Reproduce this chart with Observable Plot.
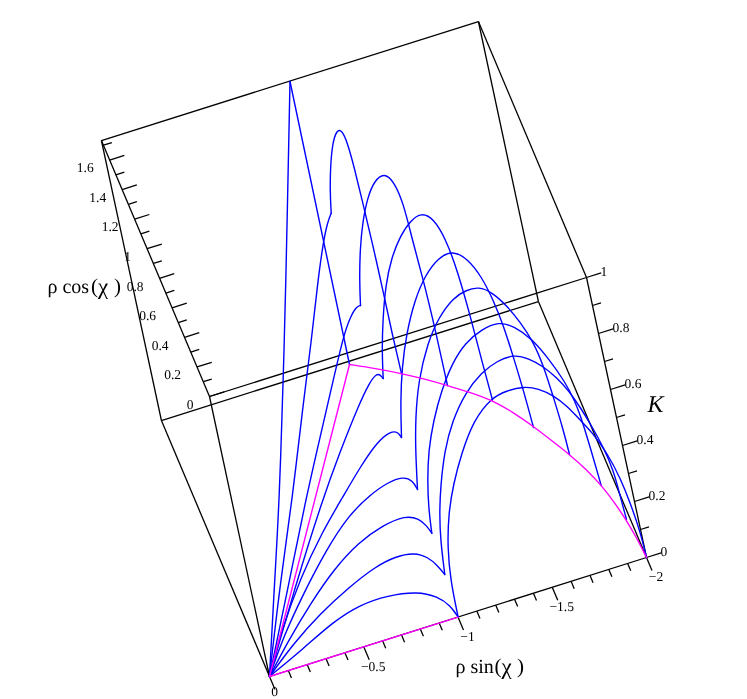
<!DOCTYPE html>
<html>
<head>
<meta charset="utf-8">
<script src="https://cdn.jsdelivr.net/npm/d3@7"></script>
<script src="https://cdn.jsdelivr.net/npm/@observablehq/plot@0.6"></script>
<style>html,body{margin:0;padding:0;background:#fff}svg{display:block;will-change:transform}text{text-rendering:geometricPrecision}</style>
</head>
<body>
<div id="chart"></div>
<script>
// Box extents (rho sin chi, rho cos chi, K)
const xMin = -2, yMax = 1.732, kMax = 1;
// Box edges as pairs of corners
const edges = [
  [[0,0,0],[xMin,0,0]], [[xMin,0,0],[xMin,yMax,0]], [[xMin,yMax,0],[0,yMax,0]], [[0,yMax,0],[0,0,0]],
  [[0,0,kMax],[xMin,0,kMax]], [[xMin,0,kMax],[xMin,yMax,kMax]], [[xMin,yMax,kMax],[0,yMax,kMax]], [[0,yMax,kMax],[0,0,kMax]],
  [[0,0,0],[0,0,kMax]], [[xMin,0,0],[xMin,0,kMax]], [[xMin,yMax,0],[xMin,yMax,kMax]], [[0,yMax,0],[0,yMax,kMax]]
];
// Axis ticks
const xMajor = [0,-0.5,-1,-1.5,-2];
const xMinor = [-0.1,-0.2,-0.3,-0.4,-0.6,-0.7,-0.8,-0.9,-1.1,-1.2,-1.3,-1.4,-1.6,-1.7,-1.8,-1.9];
const yMajor = [0,0.2,0.4,0.6,0.8,1,1.2,1.4,1.6];
const yMinor = [0.1,0.3,0.5,0.7,0.9,1.1,1.3,1.5,1.7];
const kMajor = [0,0.2,0.4,0.6,0.8,1];
const kMinor = [0.1,0.3,0.5,0.7,0.9];
const xTickText = ["0","\u22120.5","\u22121","\u22121.5","\u22122"];
const yTickText = ["0","0.2","0.4","0.6","0.8","1","1.2","1.4","1.6"];
const kTickText = ["0","0.2","0.4","0.6","0.8","1"];

// Oblique view: picture position per unit of each variable
const view = {x0:269, y0:676, xu:[-188.5,59.5], yu:[-62.4,-147.8], ku:[-60,-280]};
const project = ([a,b,c]) => [
  view.x0 + a*view.xu[0] + b*view.yu[0] + c*view.ku[0],
  view.y0 + a*view.xu[1] + b*view.yu[1] + c*view.ku[1]
];

// Traces, as positions in the view plane
const sectorEdge = [[269,676],[349,364]];
const baseEdge = [[269,676],[457.7,616.7]];
const rimArc = [[349,364],[349,364],[375,368],[401,373],[424,378.5],[447,385],[470,392],[492,400],[513,412],[533,426],[551,440],[569,454],[586,469],[601,485],[614,502],[626,520],[636,537],[646,557]];

const ridgeUp = [[269,676],[273,600],[279,500],[283,367],[285,300],[289.5,81]];
const ridgeDown = [[289.5,81],[349,364]];

const ray1Low = [[269,676],[280,580],[291.7,500],[303,400],[311,340],[317,283],[323,240],[327,222],[330.7,212.7]];
const ray1High = [[330.7,212.7],[329.5,190],[330,165],[332,143],[336,130],[341,129],[347,142],[354,168],[361,197],[372,243],[384,297],[392,335],[401,373]];
const ray2Low = [[269,676],[287,590],[305,500],[320,435],[332,383],[343,335],[350,316],[356,306],[360,305]];
const ray2High = [[360,305],[359,280],[359.5,250],[362,222],[367,197],[374,180],[384,172],[394,182],[403,203],[412,240],[423,280],[435,330],[447,385]];
const ray3Low = [[269,676],[295,585],[321.7,500],[340,450],[358,405],[369,382],[376,373],[380,374.5],[382.7,378]];
const ray3High = [[382.7,378],[381.5,350],[382.3,320],[385,285],[391,257],[400,235],[410,220],[421,212],[433,218],[445,238],[457,270],[471,320],[482,363],[492,399.5]];
const ray4Low = [[269,676],[280,633],[300,577],[322,531],[342,497],[360,466],[377,441],[390,431],[397,431],[401,437]];
const ray4High = [[401,437],[400,400],[401.5,367],[406,333],[414,300],[425,274],[438,257],[452,250],[467,258],[481,276],[493,300],[503,325],[513,357],[523,390],[533,427]];
const ray5Low = [[269,676],[283,636],[303,593],[326,549],[348,515],[370,494],[387,482],[403,476],[412,480],[417,489]];
const ray5High = [[417,489],[415,450],[415,417],[418,380],[427,343],[438,317],[453,297],[465,290],[478,286],[492,292],[507,306],[520,322],[532,340],[543,365],[553,397],[563,430],[569,454]];
const ray6Low = [[269,676],[288,640],[310,603],[334,568],[358,542],[382,525],[405,515],[418,518],[426,525],[431.3,532.7]];
const ray6High = [[431.3,532.7],[428,507],[427,480],[428,450],[433,420],[441,390],[452,362],[465,342],[481,329],[498,321],[514,326],[531,338],[548,358],[565,382],[574,400],[582,420],[600.7,485]];
const ray7Low = [[269,676],[293,643],[320,613],[347,588],[375,566],[395,556],[414,552],[428,557],[437,565],[444.3,574]];
const ray7High = [[444.3,574],[440,540],[439,513],[440,487],[444,450],[452,420],[465,392],[481,372],[497,360],[514,354],[528,358],[543,366],[556,377],[568,390],[580,407],[592,427],[603,447],[613,470],[619,493],[626,519]];
const ray8Low = [[269,676],[303,648],[333,621],[360,604],[387,595],[417,591],[437,596],[450,605],[457.7,616.7]];
const ray8High = [[457.7,616.7],[450,580],[447,547],[448,513],[453,483],[461,453],[473,420],[491,397],[507,390],[523,386],[538,388],[553,395],[567,406],[579,419],[591,431],[607,453],[620,478],[630,503],[640,532],[646,557]];

const smoothTraces = [ridgeUp, ray1Low, ray1High, ray2Low, ray2High, ray3Low, ray3High, ray4Low, ray4High, ray5Low, ray5High, ray6Low, ray6High, ray7Low, ray7High, ray8Low, ray8High];

// Axis title pieces: [text, left edge, size]
const sinTitle = [["\u03C1 sin",455,20],["(",494,21],["\u03C7",501,23],[")",516.5,21]];
const cosTitle = [["\u03C1 cos",47,20],["(",90.5,21],["\u03C7",97.5,23],[")",113.5,21]];

const black = "#000", blue = "#0000ff", magenta = "#ff00ff";
const serif = "'Liberation Serif','Times New Roman',serif";

const trace = (pts, stroke, curve) => Plot.line(pts, {x:d=>d[0], y:d=>d[1], stroke, strokeWidth:1.4, curve});
const seg = (rows, from, to, sw=1.3) => Plot.link(rows, {
  x1:d=>project(from(d))[0], y1:d=>project(from(d))[1],
  x2:d=>project(to(d))[0], y2:d=>project(to(d))[1],
  stroke:black, strokeWidth:sw
});
const title = (pieces, yPos) => pieces.map(p => Plot.text([p], {x:d=>d[1], y:()=>yPos, text:d=>d[0], textAnchor:"start", fontSize:p[2], fontFamily:serif, fill:black}));

const xTick = (len) => [d=>[d,0,0], d=>[d,-len,0]];
const yTick = (len) => [d=>[0,d,kMax], d=>[len,d,kMax]];
const kTick = (len) => [d=>[xMin,0,d], d=>[xMin+len,0,d]];

const chart = Plot.plot({
  width:747, height:699, margin:0,
  x:{domain:[0,747], range:[0,747], axis:null},
  y:{domain:[0,699], range:[0,699], axis:null},
  style:{background:"#fff", fontFamily:serif},
  marks:[
    seg(edges, d=>d[0], d=>d[1]),
    seg(xMajor, ...xTick(0.088)), seg(xMinor, ...xTick(0.05)),
    seg(yMajor, ...yTick(-0.078)), seg(yMinor, ...yTick(-0.045)),
    seg(kMajor, ...kTick(-0.078)), seg(kMinor, ...kTick(-0.045)),
    ...smoothTraces.map(t => trace(t, blue, "basis")),
    trace(ridgeDown, blue, "linear"),
    trace(sectorEdge, magenta, "linear"),
    trace(baseEdge, magenta, "linear"),
    trace(rimArc, magenta, "basis"),
    Plot.text(xMajor, {x:d=>project([d,0,0])[0]+(d===0?5:9.5), y:d=>project([d,0,0])[1]+(d===0?15.5:19.5), text:(d,i)=>xTickText[i], fontSize:13.5, fontFamily:serif, fill:black}),
    Plot.text(yMajor, {x:d=>project([0,d,kMax])[0]-16, y:d=>project([0,d,kMax])[1]+8, text:(d,i)=>yTickText[i], textAnchor:"end", fontSize:13.5, fontFamily:serif, fill:black}),
    Plot.text(kMajor, {x:d=>project([xMin,0,d])[0]+14, y:d=>project([xMin,0,d])[1]-6, text:(d,i)=>kTickText[i], textAnchor:"start", fontSize:13.5, fontFamily:serif, fill:black}),
    ...title(sinTitle, 666),
    ...title(cosTitle, 286),
    Plot.text(["K"], {x:()=>655, y:()=>404, text:d=>d, fontSize:24, fontStyle:"italic", fontFamily:serif, fill:black})
  ]
});
document.getElementById("chart").append(chart);
</script>
</body>
</html>
